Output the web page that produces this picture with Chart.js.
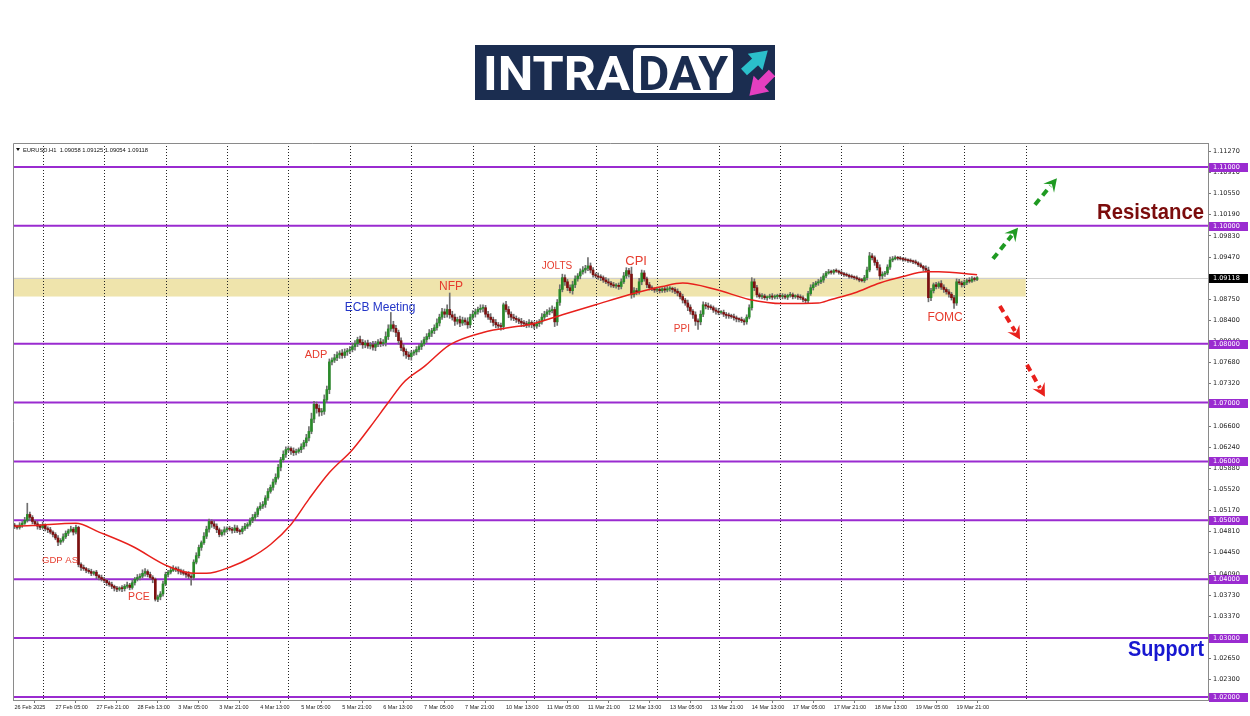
<!DOCTYPE html>
<html>
<head>
<meta charset="utf-8">
<script src="https://cdn.jsdelivr.net/npm/chart.js@4.4.1/dist/chart.umd.min.js"></script>
<style>
html,body{margin:0;padding:0;background:#fff;}
#wrap{position:relative;width:1250px;height:716px;overflow:hidden;background:#fff;}
#chart{position:absolute;left:0;top:0;}
#logo{position:absolute;left:475px;top:45px;}
</style>
</head>
<body>
<div id="wrap">
<canvas id="chart" width="1250" height="716" style="width:1250px;height:716px"></canvas>
<svg id="logo" width="300" height="55" viewBox="0 0 300 55">
<rect width="300" height="55" fill="#1b2d50"/>
<text x="8" y="45" font-family="Roboto" font-weight="bold" font-size="48" fill="#fff" textLength="147" lengthAdjust="spacingAndGlyphs">INTRA</text>
<rect x="158" y="3" width="100" height="45" rx="4" fill="#fff"/>
<text x="163" y="45" font-family="Roboto" font-weight="bold" font-size="48" fill="#1b2d50" textLength="90" lengthAdjust="spacingAndGlyphs">DAY</text>
<g transform="translate(269,27) rotate(-42)"><rect x="0" y="-4.5" width="18" height="9" fill="#2bbfca"/><polygon points="15,-11 32,0 15,11" fill="#2bbfca"/></g>
<g transform="translate(297,28) rotate(135)"><rect x="0" y="-4.5" width="18" height="9" fill="#e43fc0"/><polygon points="15,-11 32,0 15,11" fill="#e43fc0"/></g>
</svg>
</div>
<script>
// time axis labels, one every 16 hourly bars
const xLabels = ["26 Feb 2025","27 Feb 05:00","27 Feb 21:00","28 Feb 13:00","3 Mar 05:00","3 Mar 21:00",
"4 Mar 13:00","5 Mar 05:00","5 Mar 21:00","6 Mar 13:00","7 Mar 05:00","7 Mar 21:00","10 Mar 13:00",
"11 Mar 05:00","11 Mar 21:00","12 Mar 13:00","13 Mar 05:00","13 Mar 21:00","14 Mar 13:00","17 Mar 05:00",
"17 Mar 21:00","18 Mar 13:00","19 Mar 05:00","19 Mar 21:00"];

// hourly closes, in pips above 1.00000
const firstOpen = 492;
const closes = [
490,488,492,495,500,510,505,498,494,490,
488,492,486,484,480,476,470,463,466,472,
478,482,485,480,488,425,420,418,415,413,
410,412,406,403,400,398,394,391,388,385,
383,385,384,388,390,386,394,400,403,405,
410,413,408,403,400,366,370,375,392,408,
412,415,418,417,414,412,410,408,405,403,
429,440,454,462,473,485,498,494,490,484,
476,480,484,486,485,483,487,482,481,486,
490,493,500,505,510,520,524,527,538,549,
556,565,573,590,603,612,620,622,618,615,
617,620,625,632,640,651,672,697,690,684,
685,705,722,769,772,776,781,784,780,786,
788,790,795,800,807,802,798,801,796,798,
794,799,803,800,802,812,825,832,826,819,
805,793,787,781,778,784,786,790,795,800,
807,812,818,822,827,835,845,854,850,858,
849,845,838,841,835,840,837,832,845,850,
854,858,860,861,850,845,841,836,832,830,
829,866,858,850,845,843,841,838,835,834,
832,836,833,830,834,837,845,850,854,856,
858,837,870,892,912,905,895,890,900,910,
915,922,925,928,932,925,917,915,913,912,
908,905,903,900,898,899,897,905,915,924,
918,883,890,888,905,920,910,900,895,893,
891,892,890,893,891,893,894,892,889,886,
880,874,869,862,855,849,838,837,850,866,
864,862,861,857,855,853,853,850,848,847,
846,844,842,841,839,837,845,861,905,895,
883,880,881,878,879,881,879,880,882,880,
881,879,882,883,880,881,879,878,875,873,
885,895,900,903,905,908,915,920,922,921,
924,923,921,919,917,916,914,913,912,910,
908,907,912,925,949,946,938,929,915,918,
920,930,942,944,946,945,944,943,942,941,
940,939,937,934,931,928,925,878,890,900,
897,902,896,892,888,884,878,869,905,903,
900,904,907,906,910,909,912
];

// wick lengths in pips above / below the body
const upWick = [
3,2,4,3,5,19,4,3,2,4,3,5,2,3,4,2,3,4,3,5,
4,3,5,3,4,2,3,4,2,3,4,2,3,2,4,3,2,3,4,2,
3,2,4,3,5,3,4,3,5,4,6,5,3,4,3,2,3,4,5,4,
3,4,5,3,4,3,4,3,5,3,4,5,4,3,6,5,4,3,5,4,
3,4,5,3,4,3,5,4,3,4,5,3,4,5,4,3,6,5,4,5,
4,5,6,5,4,6,5,4,3,5,4,3,5,4,6,8,10,5,4,6,
5,8,6,5,4,6,5,4,6,5,4,5,6,5,4,6,5,4,5,4,
6,5,4,6,5,8,7,21,6,5,4,5,6,4,5,4,3,5,4,5,
4,5,6,4,5,7,5,6,5,8,28,6,5,4,6,5,4,7,5,6,
5,4,6,5,4,5,6,4,5,4,5,3,6,5,4,5,4,3,5,4,
4,5,3,4,5,4,6,5,4,5,6,4,5,8,6,5,4,5,6,5,
4,5,6,5,14,5,4,3,5,4,3,4,5,3,4,3,4,5,6,5,
4,12,5,4,6,5,4,3,4,3,2,4,3,2,3,4,3,2,3,4,
3,4,3,5,4,3,5,4,6,5,4,5,4,3,4,5,3,4,3,4,
3,4,3,2,4,3,4,5,7,5,4,3,4,3,2,3,4,3,2,3,
4,3,2,4,3,2,3,4,3,2,4,5,4,3,4,5,4,3,4,3,
2,3,2,3,2,3,2,3,2,3,2,3,4,5,6,4,3,4,5,4,
3,4,5,4,3,2,3,2,3,2,3,2,3,2,3,2,4,5,4,3,
4,3,5,4,3,4,3,4,5,4,3,4,3,5,4,3,2
];
const dnWick = [
4,3,3,4,2,3,5,4,3,5,4,3,4,5,3,4,3,6,4,3,
3,4,2,5,3,4,5,3,4,3,4,3,5,4,3,4,5,3,4,5,
4,3,5,4,3,4,3,4,3,4,3,5,4,3,6,3,4,5,4,3,
4,3,2,4,5,4,3,5,4,13,4,3,4,5,3,4,5,6,4,5,
4,3,5,4,3,5,4,3,5,4,3,4,3,4,5,4,3,4,5,4,
3,5,4,3,6,4,5,4,6,5,4,3,5,4,6,5,4,6,8,7,
6,5,4,7,5,4,5,6,5,4,6,5,4,6,5,4,6,5,4,5,
5,6,4,5,4,6,5,4,6,7,6,5,8,6,5,6,4,5,4,5,
4,5,4,6,5,4,5,4,6,5,6,5,7,5,6,4,5,6,5,4,
5,4,5,6,5,4,5,6,5,4,6,5,4,6,5,4,5,4,6,5,
5,4,6,5,4,5,4,5,4,5,4,8,6,5,4,6,5,4,6,5,
4,5,4,5,4,5,4,3,4,5,4,3,5,4,3,4,5,4,3,4,
5,6,4,5,4,5,4,5,4,3,4,3,4,3,4,3,4,5,4,5,
4,5,4,6,5,6,7,13,5,4,5,4,3,4,5,4,3,4,5,4,
3,4,5,4,3,5,4,3,4,5,4,3,4,3,4,3,4,3,4,3,
4,3,4,3,4,3,4,3,4,5,4,3,4,3,4,3,4,3,2,3,
3,2,3,2,3,2,3,2,3,2,3,2,3,4,3,4,5,4,6,5,
4,3,4,3,2,3,2,3,2,3,2,3,2,3,2,4,3,7,5,4,
4,3,4,5,4,5,4,9,4,3,4,3,4,3,2,3,2
];

// moving average (bar index, pips)
const maBars = [0,7,24,33,46,60,70,75,85,92,100,108,115,123,132,139,146,152,160,170,183,196,201,214,227,240,253,261,274,287,300,314,319,328,338,347,356,361,376];
const maPips = [490,491,495,480,456,422,410,410,422,436,459,493,536,581,620,659,700,734,761,798,819,829,832,849,866,883,897,903,892,875,868,869,875,886,903,914,922,922,917];

// round-number levels and right axis ticks
const levels = [1.11,1.10,1.08,1.07,1.06,1.05,1.04,1.03,1.02];
const yTicks = [1.1127,1.1091,1.1055,1.1019,1.0983,1.0947,1.0911,1.0875,1.0840,1.0804,1.0768,1.0732,1.0696,
1.0660,1.0624,1.0588,1.0552,1.0517,1.0481,1.0445,1.0409,1.0373,1.0337,1.0301,1.0265,1.0230,1.0194];
const zoneLow = 1.0880, zoneHigh = 1.0912, zoneEndBar = 395;
const lastPrice = 1.09118;
const header = "EURUSD.H1  1.09058 1.09125 1.09054 1.09118";

const events = [
 {t:"GDP AS",bar:17.8,p:1.0432,c:"#e63c2e",s:9.5},
 {t:"PCE",bar:48.6,p:1.0369,c:"#e63c2e",s:10.5},
 {t:"ADP",bar:117.8,p:1.0780,c:"#e63c2e",s:11},
 {t:"ECB Meeting",bar:142.8,p:1.0861,c:"#2436c8",s:12},
 {t:"NFP",bar:170.5,p:1.0897,c:"#e63c2e",s:12},
 {t:"JOLTS",bar:211.9,p:1.0932,c:"#e63c2e",s:10},
 {t:"CPI",bar:242.8,p:1.0939,c:"#e63c2e",s:13},
 {t:"PPI",bar:260.7,p:1.0824,c:"#e63c2e",s:10},
 {t:"FOMC",bar:363.5,p:1.0844,c:"#e63c2e",s:12}
];
const arrows = [
 {b1:382.2,p1:1.0944,b2:392.0,p2:1.0997,c:"#1f9a22"},
 {b1:398.6,p1:1.1036,b2:407.2,p2:1.1081,c:"#1f9a22"},
 {b1:384.9,p1:1.0864,b2:392.8,p2:1.0807,c:"#e8201c"},
 {b1:395.5,p1:1.0764,b2:402.5,p2:1.0710,c:"#e8201c"}
];

const toPrice = v => 1 + v / 10000;
const opens = closes.map((c, i) => i === 0 ? firstOpen : closes[i - 1]);
const bodies = [], wicks = [], bodyColors = [];
closes.forEach((c, i) => {
  const o = opens[i];
  const top = Math.max(o, c), bot = Math.min(o, c);
  bodies.push({x: i, y: [toPrice(o), toPrice(c)]});
  wicks.push({x: i, y: [toPrice(bot - dnWick[i]), toPrice(top + upWick[i])]});
  bodyColors.push(c >= o ? "#2a8a2a" : "#7d1010");
});
const ma = maBars.map((b, i) => ({x: b, y: toPrice(maPips[i])}));

function drawArrow(c, x1, y1, x2, y2, color) {
  const a = Math.atan2(y2 - y1, x2 - x1);
  const head = 13, half = 7;
  const bx = x2 - Math.cos(a) * head, by = y2 - Math.sin(a) * head;
  const nx = Math.cos(a + Math.PI / 2), ny = Math.sin(a + Math.PI / 2);
  c.save();
  c.strokeStyle = color; c.lineWidth = 4; c.setLineDash([7, 5]);
  c.beginPath(); c.moveTo(x1, y1); c.lineTo(bx + Math.cos(a) * 3, by + Math.sin(a) * 3); c.stroke();
  c.setLineDash([]);
  c.fillStyle = color;
  c.beginPath();
  c.moveTo(x2, y2);
  c.lineTo(bx + nx * half, by + ny * half);
  c.lineTo(x2 - Math.cos(a) * 8, y2 - Math.sin(a) * 8);
  c.lineTo(bx - nx * half, by - ny * half);
  c.closePath(); c.fill();
  c.restore();
}

// bold text squeezed to a set width (the original uses a narrow display face)
function squeezed(c, text, right, midY, width, color) {
  c.save();
  c.font = "bold 22px 'Liberation Sans'";
  c.textAlign = "left"; c.textBaseline = "middle";
  const w = c.measureText(text).width;
  c.translate(right - width, midY);
  c.scale(width / w, 1);
  c.fillStyle = color;
  c.fillText(text, 0, 0);
  c.restore();
}

const overlay = {
  id: "overlay",
  beforeDatasetsDraw(chart) {
    const c = chart.ctx, a = chart.chartArea, x = chart.scales.x, y = chart.scales.y;
    c.save();
    // supply zone
    c.fillStyle = "#efe4ac";
    const zx = x.getPixelForValue(zoneEndBar);
    c.fillRect(a.left, y.getPixelForValue(zoneHigh), zx - a.left, y.getPixelForValue(zoneLow) - y.getPixelForValue(zoneHigh));
    // last price line
    c.strokeStyle = "#cfcfcf"; c.lineWidth = 1;
    const ly = Math.round(y.getPixelForValue(lastPrice)) + 0.5;
    c.beginPath(); c.moveTo(a.left, ly); c.lineTo(a.right, ly); c.stroke();
    // daily dotted grid
    c.strokeStyle = "#222"; c.setLineDash([1, 2]);
    for (let b = 11; b <= zoneEndBar; b += 24) {
      const px = Math.round(x.getPixelForValue(b)) + 0.5;
      c.beginPath(); c.moveTo(px, a.top); c.lineTo(px, a.bottom); c.stroke();
    }
    c.setLineDash([]);
    // round-number lines
    c.strokeStyle = "#9a2bd0"; c.lineWidth = 2;
    levels.forEach(v => {
      const py = y.getPixelForValue(v);
      c.beginPath(); c.moveTo(a.left, py); c.lineTo(a.right, py); c.stroke();
    });
    c.restore();
  },
  afterDraw(chart) {
    const c = chart.ctx, a = chart.chartArea, x = chart.scales.x, y = chart.scales.y;
    c.save();
    // frame
    c.strokeStyle = "#8a8a8a"; c.lineWidth = 1;
    c.beginPath();
    c.moveTo(a.left + 0.5, a.bottom); c.lineTo(a.left + 0.5, a.top + 0.5); c.lineTo(a.right, a.top + 0.5);
    c.stroke();
    // header
    c.fillStyle = "#111";
    c.beginPath(); c.moveTo(16, 148); c.lineTo(20, 148); c.lineTo(18, 151); c.closePath(); c.fill();
    c.font = "5.8px 'Liberation Sans'"; c.textBaseline = "middle"; c.textAlign = "left";
    c.fillText(header, 23, 150);
    // event labels
    c.textAlign = "center";
    events.forEach(e => {
      c.font = e.s + "px 'Liberation Sans'";
      c.fillStyle = e.c;
      c.fillText(e.t, x.getPixelForValue(e.bar), y.getPixelForValue(e.p));
    });
    squeezed(c, "Resistance", a.right - 4, y.getPixelForValue(1.1022), 107, "#7b0c0c");
    squeezed(c, "Support", a.right - 4, y.getPixelForValue(1.0280), 76, "#1717d0");
    arrows.forEach(r => drawArrow(c, x.getPixelForValue(r.b1), y.getPixelForValue(r.p1),
      x.getPixelForValue(r.b2), y.getPixelForValue(r.p2), r.c));
    // axis boxes
    c.font = "6.5px 'DejaVu Sans'"; c.textAlign = "left"; c.textBaseline = "middle";
    levels.forEach(v => {
      const py = Math.round(y.getPixelForValue(v));
      c.fillStyle = "#9a2bd0"; c.fillRect(a.right + 1, py - 4, 39, 9);
      c.fillStyle = "#fff"; c.fillText(v.toFixed(5), a.right + 5, py + 0.5);
    });
    const lp = Math.round(y.getPixelForValue(lastPrice));
    c.fillStyle = "#000"; c.fillRect(a.right + 1, lp - 4, 39, 9);
    c.fillStyle = "#fff"; c.fillText(lastPrice.toFixed(5), a.right + 5, lp + 0.5);
    c.restore();
  }
};

new Chart(document.getElementById("chart"), {
  type: "bar",
  data: {
    datasets: [
      {type: "line", data: ma, borderColor: "#e8201c", borderWidth: 1.5, pointRadius: 0,
       cubicInterpolationMode: "monotone", order: 0},
      {data: bodies, backgroundColor: bodyColors, barThickness: 2, minBarLength: 1, grouped: false, order: 1},
      {data: wicks, backgroundColor: "#6f6f6f", barThickness: 1, grouped: false, order: 2}
    ]
  },
  options: {
    responsive: false,
    animation: false,
    events: [],
    layout: {padding: {left: 13, top: 143, right: 0, bottom: 0}},
    plugins: {legend: {display: false}, tooltip: {enabled: false}},
    scales: {
      x: {
        type: "linear", min: -0.586, max: 466.2, offset: false,
        grid: {drawOnChartArea: false, tickLength: 3, color: "#777"},
        border: {color: "#8a8a8a"},
        afterBuildTicks: s => { s.ticks = xLabels.map((l, k) => ({value: k * 16})); },
        afterFit: s => { s.height = 16; s.paddingLeft = 0; s.paddingRight = 0; },
        ticks: {autoSkip: false, maxRotation: 0, align: "start", padding: 1, color: "#222",
          font: {family: "Liberation Sans", size: 5.5},
          callback: v => xLabels[Math.round(v / 16)]}
      },
      y: {
        position: "right", min: 1.01949, max: 1.11407,
        grid: {drawOnChartArea: false, tickLength: 3, color: "#777"},
        border: {color: "#8a8a8a"},
        afterBuildTicks: s => { s.ticks = yTicks.map(v => ({value: v})); },
        afterFit: s => { s.width = 42; s.paddingTop = 0; s.paddingBottom = 0; },
        ticks: {autoSkip: false, padding: 2, color: "#222",
          font: {family: "DejaVu Sans", size: 6.5},
          callback: v => v.toFixed(5)}
      }
    }
  },
  plugins: [overlay]
});
</script>
</body>
</html>
